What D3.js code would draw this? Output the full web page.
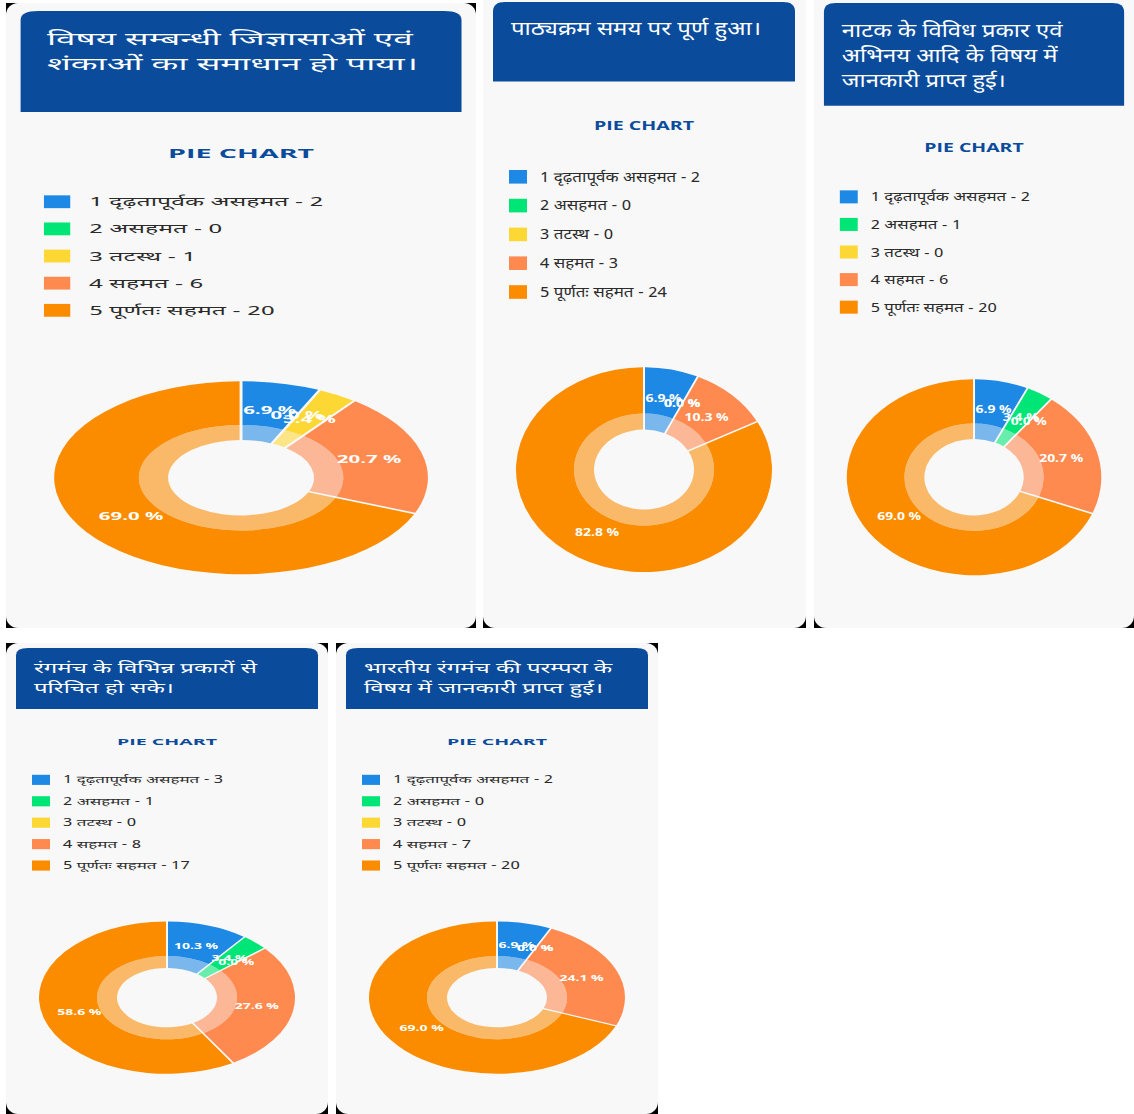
<!DOCTYPE html>
<html>
<head>
<meta charset="utf-8">
<script src="https://cdn.jsdelivr.net/npm/d3@7"></script>
<style>
  html, body { margin: 0; padding: 0; background: #ffffff; }
  svg { display: block; }
  .dev { font-family: "Noto Sans Devanagari", "Noto Sans", "Lohit Devanagari", sans-serif; }
</style>
</head>
<body>
<svg id="chart" width="1134" height="1114"></svg>
<script>
// Survey questions (card headings), one array of lines per card
const questionLines = [
  ["विषय सम्बन्धी जिज्ञासाओं एवं", "शंकाओं का समाधान हो पाया।"],
  ["पाठ्यक्रम समय पर पूर्ण हुआ।"],
  ["नाटक के विविध प्रकार एवं", "अभिनय आदि के विषय में", "जानकारी प्राप्त हुई।"],
  ["रंगमंच के विभिन्न प्रकारों से", "परिचित हो सके।"],
  ["भारतीय रंगमंच की परम्परा के", "विषय में जानकारी प्राप्त हुई।"]
];

// Likert scale categories
const categories = ["1 दृढ़तापूर्वक असहमत", "2 असहमत", "3 तटस्थ", "4 सहमत", "5 पूर्णतः सहमत"];
const sliceColors = ["#1e88e5", "#00e676", "#fdd835", "#ff8a50", "#fb8c00"];

// Response counts per question
const countsQ1 = [2, 0, 1, 6, 20];
const countsQ2 = [2, 0, 0, 3, 24];
const countsQ3 = [2, 1, 0, 6, 20];
const countsQ4 = [3, 1, 0, 8, 17];
const countsQ5 = [2, 0, 0, 7, 20];
const allCounts = [countsQ1, countsQ2, countsQ3, countsQ4, countsQ5];

const chartTitle = "PIE CHART";

// Card placement on the page; contents are laid out in a 322-wide local frame and scaled
const cards = [
  { x: 6,   y: 3,   w: 470, h: 625, sx: 1.46, sy: 0.754, hTop: 10.6, hBot: 144.6, lines: [55.7, 88.9], roundTop: true },
  { x: 483, y: 0,   w: 323, h: 628, sx: 1.0,  sy: 0.80,  hTop: 2.5,  hBot: 102,   lines: [44],          roundTop: false },
  { x: 814, y: 0,   w: 320, h: 628, sx: 0.994, sy: 0.766, hTop: 4,   hBot: 138,   lines: [48, 81, 113.6], roundTop: false },
  { x: 6,   y: 643, w: 322, h: 471, sx: 1.0,  sy: 0.595, hTop: 8.4,  hBot: 111,   lines: [50.4, 84],    roundTop: true },
  { x: 336, y: 643, w: 322, h: 471, sx: 1.0,  sy: 0.595, hTop: 8.4,  hBot: 111,   lines: [50.4, 84],    roundTop: true }
];

const svg = d3.select("#chart");
const color = d3.scaleOrdinal().domain(d3.range(categories.length)).range(sliceColors);

// slice gaps are constant-width: padRadius fixes the linear gap at ~2px
const GAP = 2, PAD_R = 128;
const pie = d3.pie().sort(null).value(d => d.v);
const outerArc = d3.arc().innerRadius(70).outerRadius(128).padRadius(PAD_R);
const innerArc = d3.arc().innerRadius(50).outerRadius(70).padRadius(PAD_R);
const labelArc = d3.arc().innerRadius(91).outerRadius(91);

// Rounded-top rectangle path (square bottom corners)
function topRoundedRect(x, y, w, h, r) {
  return `M${x},${y + h}V${y + r}Q${x},${y} ${x + r},${y}H${x + w - r}Q${x + w},${y} ${x + w},${y + r}V${y + h}Z`;
}

cards.forEach((c, i) => {
  const counts = allCounts[i];
  const total = d3.sum(counts);
  const card = svg.append("g");

  // dark backdrop visible only behind the rounded card corners
  card.append("rect").attr("x", c.x).attr("y", c.y).attr("width", c.w).attr("height", c.h).attr("fill", "#000");
  card.append("rect")
    .attr("x", c.x).attr("y", c.roundTop ? c.y : c.y - 20)
    .attr("width", c.w).attr("height", c.roundTop ? c.h : c.h + 20)
    .attr("rx", 12).attr("ry", 12)
    .attr("fill", "#f8f8f8");

  const g = card.append("g").attr("transform", `translate(${c.x},${c.y}) scale(${c.sx},${c.sy})`);

  // heading band
  g.append("path")
    .attr("d", topRoundedRect(10, c.hTop, 302, c.hBot - c.hTop, 12))
    .attr("fill", "#0a4b9c");
  g.selectAll("text.q")
    .data(questionLines[i])
    .join("text")
    .attr("class", "q dev")
    .attr("x", 28)
    .attr("y", (d, k) => c.lines[k])
    .attr("fill", "#ffffff")
    .attr("font-size", 24)
    .text(d => d);

  // chart title
  g.append("text")
    .attr("x", 161).attr("y", c.hBot + 61)
    .attr("text-anchor", "middle")
    .attr("fill", "#0a4b9c")
    .attr("font-family", "'Open Sans', Lato, sans-serif")
    .attr("font-weight", 700)
    .attr("font-size", 16)
    .attr("textLength", 100)
    .attr("lengthAdjust", "spacingAndGlyphs")
    .text(chartTitle);

  // legend
  const legendY = d3.scaleLinear().domain([0, 1]).range([c.hBot + 119, c.hBot + 155]);
  const legend = g.append("g");
  const rows = legend.selectAll("g").data(categories).join("g")
    .attr("transform", (d, k) => `translate(0,${legendY(k)})`);
  rows.append("rect")
    .attr("x", 26).attr("y", -8.5).attr("width", 18).attr("height", 17)
    .attr("fill", (d, k) => color(k));
  rows.append("text")
    .attr("class", "dev")
    .attr("x", 57).attr("y", 6)
    .attr("font-size", 17)
    .attr("fill", "#2b2b2b")
    .text((d, k) => `${d} - ${counts[k]}`);

  // donut: outer full-colour ring, inner translucent ring
  const arcs = pie(counts.map((v, k) => ({ v, k })));
  arcs.forEach(a => { a.padAngle = a.data.v > 0 ? GAP / PAD_R : 0; });
  const donut = g.append("g").attr("transform", `translate(161,${c.hBot + 485})`);
  donut.selectAll("path.inner").data(arcs.filter(a => a.data.v > 0)).join("path")
    .attr("class", "inner")
    .attr("d", innerArc)
    .attr("fill", d => color(d.data.k))
    .attr("fill-opacity", 0.58);
  donut.selectAll("path.outer").data(arcs.filter(a => a.data.v > 0)).join("path")
    .attr("class", "outer")
    .attr("d", outerArc)
    .attr("fill", d => color(d.data.k));
  donut.selectAll("text").data(arcs).join("text")
    .attr("transform", d => `translate(${labelArc.centroid(d)})`)
    .attr("text-anchor", "middle")
    .attr("dy", "0.35em")
    .attr("fill", "#ffffff")
    .attr("font-family", "'Open Sans', Arial, sans-serif")
    .attr("font-weight", 700)
    .attr("font-size", 14)
    .text(d => `${(d.data.v / total * 100).toFixed(1)} %`);
});
</script>
</body>
</html>
